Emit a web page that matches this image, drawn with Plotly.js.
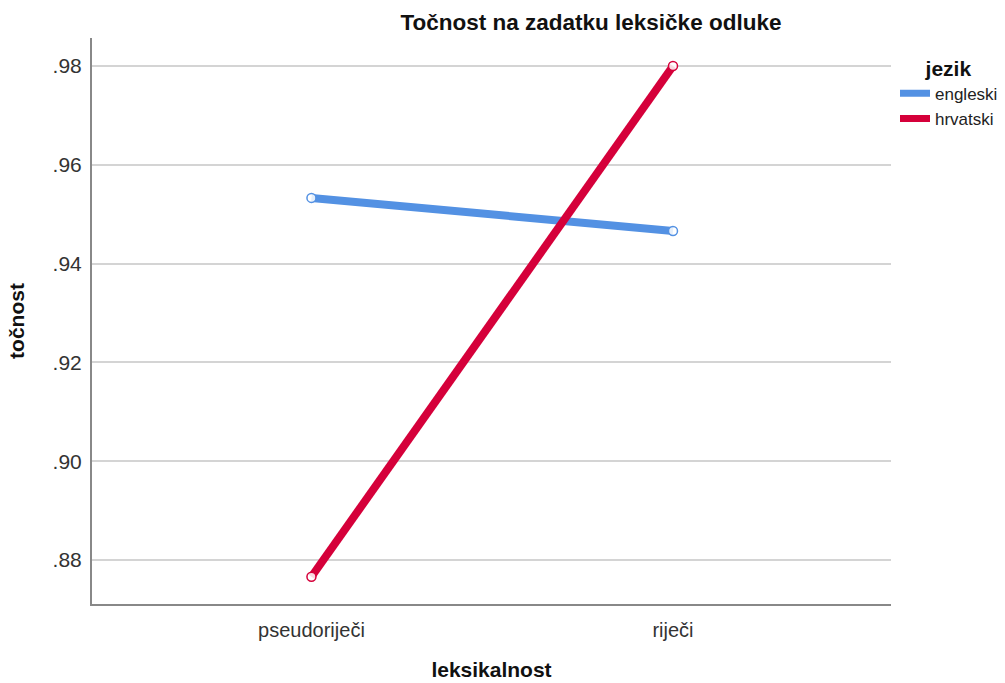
<!DOCTYPE html>
<html>
<head>
<meta charset="utf-8">
<script src="https://cdn.plot.ly/plotly-3.0.1.min.js"></script>
<style>html,body{margin:0;padding:0;background:#fff;}#chart{width:1005px;height:683px;}</style>
</head>
<body>
<div id="chart"></div>
<script>
var categories = ['pseudoriječi', 'riječi'];
var engleski = [0.9533, 0.9466];
var hrvatski = [0.8766, 0.9800];
var seriesNames = ['engleski', 'hrvatski'];
var seriesColors = ['#5391e3', '#d5003a'];
var yTickVals = [0.88, 0.90, 0.92, 0.94, 0.96, 0.98];
var yTickText = ['.88', '.90', '.92', '.94', '.96', '.98'];

var seriesData = [engleski, hrvatski];
var traces = [];
seriesData.forEach(function(vals, i){
  traces.push({
    x: categories, y: vals, type: 'scatter', mode: 'lines+markers',
    name: seriesNames[i], showlegend: false,
    line: {color: seriesColors[i], width: 8},
    marker: {symbol: 'circle', size: 9, color: 'rgba(255,255,255,0.85)', line: {color: seriesColors[i], width: 1.5}},
    hoverinfo: 'x+y+name'
  });
});
seriesData.forEach(function(vals, i){
  traces.push({
    x: [null], y: [null], type: 'scatter', mode: 'lines',
    name: seriesNames[i], showlegend: true,
    line: {color: seriesColors[i], width: 7}
  });
});

var layout = {
  width: 1005, height: 683,
  paper_bgcolor: '#fff', plot_bgcolor: '#fff',
  margin: {l: 92, r: 114, t: 38, b: 79},
  font: {family: 'Arial, "Liberation Sans", sans-serif', color: '#333'},
  title: {text: '<b>Točnost na zadatku leksičke odluke</b>', font: {size: 22.5, color: '#111'},
          xref: 'container', x: 0.588, xanchor: 'center', yref: 'container', y: 0.967, yanchor: 'middle'},
  xaxis: {
    type: 'category', range: [-0.607, 1.603],
    showline: true, linecolor: '#888', linewidth: 2, mirror: false,
    showgrid: false, zeroline: false, ticks: '',
    tickfont: {size: 20, color: '#333'}, ticklabelstandoff: 7,
    title: {text: '<b>leksikalnost</b>', font: {size: 21, color: '#111'}, standoff: 22}
  },
  yaxis: {
    range: [0.87109, 0.98567],
    tickvals: yTickVals, ticktext: yTickText,
    showline: true, linecolor: '#888', linewidth: 2,
    showgrid: true, gridcolor: '#d4d4d4', gridwidth: 2, zeroline: false, ticks: '',
    tickfont: {size: 21, color: '#333'}, ticklabelstandoff: 4,
    title: {text: '<b>točnost</b>', font: {size: 21, color: '#111'}, standoff: 22}
  },
  legend: {
    x: 895/1005, xref: 'container', y: 0.929, yref: 'container',
    xanchor: 'left', yanchor: 'top',
    font: {size: 17, color: '#222'},
    title: {text: '<b>jezik</b>', font: {size: 21, color: '#111'}, side: 'top center'},
    tracegroupgap: 0, itemwidth: 30
  },
  showlegend: true
};
Plotly.newPlot('chart', traces, layout, {displayModeBar: false, responsive: false});
</script>
</body>
</html>
